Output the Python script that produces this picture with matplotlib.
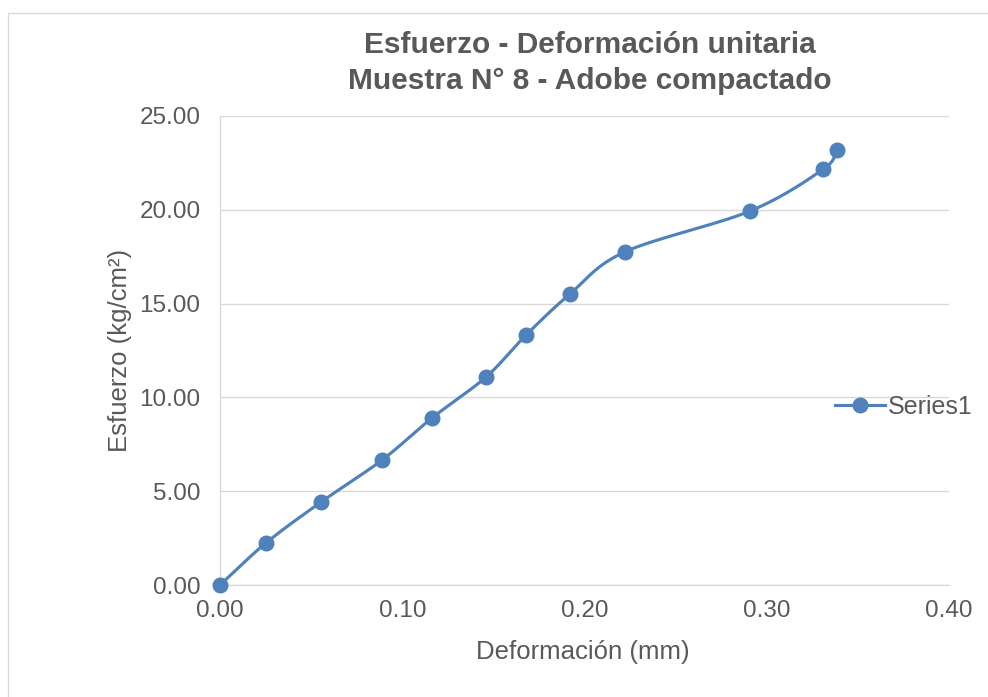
import numpy as np
import matplotlib
matplotlib.use("Agg")
import matplotlib.pyplot as plt
from matplotlib.patches import Rectangle

deformacion = [0.0, 0.0252, 0.0554, 0.0889, 0.1163, 0.1460, 0.1680, 0.1920, 0.2220, 0.2910, 0.3310, 0.3386]
esfuerzo = [0.0, 2.24, 4.42, 6.66, 8.90, 11.09, 13.33, 15.51, 17.75, 19.94, 22.17, 23.19]
x_ticks = [0.0, 0.1, 0.2, 0.3, 0.4]
y_ticks = [0, 5, 10, 15, 20, 25]
series_name = "Series1"

plt.rcParams['font.family'] = ['Liberation Sans', 'DejaVu Sans']
blue = '#4F81BD'
text_grey = '#595959'

fig = plt.figure(figsize=(9.88, 6.97), dpi=100)
fig.patch.set_facecolor('white')
fig.add_artist(Rectangle((8/988, -0.05), 1.2, 1 - 13/697 + 0.05, transform=fig.transFigure,
                         fill=False, edgecolor='#D9D9D9', linewidth=1))

ax = fig.add_axes([220/988, 1 - 585/697, (949 - 220)/988, (585 - 116)/697])
ax.set_xlim(0, 0.4)
ax.set_ylim(0, 25)


def smooth_curve(ax, xs, ys, n=30, t=1/6):
    # Bezier smoothing done in display space so the curve looks even
    pts = ax.transData.transform(np.column_stack([xs, ys]))
    out = [pts[0]]
    m = len(pts)
    for i in range(m - 1):
        p1 = pts[i]
        p2 = pts[i + 1]
        p0 = pts[i - 1] if i > 0 else 2 * p1 - p2
        p3 = pts[i + 2] if i + 2 < m else 2 * p2 - p1
        c1 = p1 + (p2 - p0) * t
        c2 = p2 - (p3 - p1) * t
        s = np.linspace(0, 1, n)[1:, None]
        seg = ((1 - s) ** 3) * p1 + 3 * ((1 - s) ** 2) * s * c1 + 3 * (1 - s) * s ** 2 * c2 + s ** 3 * p2
        out.extend(seg)
    out = np.array(out)
    return ax.transData.inverted().transform(out)


curve = smooth_curve(ax, deformacion, esfuerzo)
ax.plot(curve[:, 0], curve[:, 1], color=blue, linewidth=2.25, solid_capstyle='round', zorder=3)
ax.plot(deformacion, esfuerzo, linestyle='none', marker='o', markersize=10.5,
        color=blue, zorder=4, clip_on=False)
ax.plot([], [], color=blue, linewidth=2.25, marker='o', markersize=10.5, label=series_name)

ax.set_xticks(x_ticks)
ax.set_yticks(y_ticks)
ax.set_xticklabels([f"{v:.2f}" for v in x_ticks])
ax.set_yticklabels([f"{v:.2f}" for v in y_ticks])
ax.tick_params(axis='both', length=0, labelsize=17.5, colors=text_grey)
ax.tick_params(axis='x', pad=11)
ax.tick_params(axis='y', pad=14)
ax.grid(axis='y', color='#D9D9D9', linewidth=1)
ax.set_axisbelow(True)
for side in ['top', 'right']:
    ax.spines[side].set_visible(False)
for side in ['left', 'bottom']:
    ax.spines[side].set_color('#D9D9D9')
    ax.spines[side].set_linewidth(1)

ax.set_xlabel("Deformación (mm)", fontsize=18.5, color=text_grey, va='center')
ax.set_ylabel("Esfuerzo (kg/cm²)", fontsize=18.5, color=text_grey, va='center')
ax.xaxis.set_label_coords((583 - 220) / 729, (585 - 652) / 469)
ax.yaxis.set_label_coords((120 - 220) / 729, 0.5)

fig.text(590/988, 1 - 63/697, "Esfuerzo - Deformación unitaria\nMuestra N° 8 - Adobe compactado",
         ha='center', va='center', fontsize=21.5, fontweight='bold', color=text_grey,
         linespacing=1.32)

leg = ax.legend(loc='center left', bbox_to_anchor=(835/988, 1 - 407/697),
                bbox_transform=fig.transFigure, frameon=False, fontsize=18,
                handlelength=2.0, handletextpad=0.1, borderaxespad=0, borderpad=0)
for t in leg.get_texts():
    t.set_color(text_grey)

fig.savefig("out.png", dpi=100, facecolor='white')
